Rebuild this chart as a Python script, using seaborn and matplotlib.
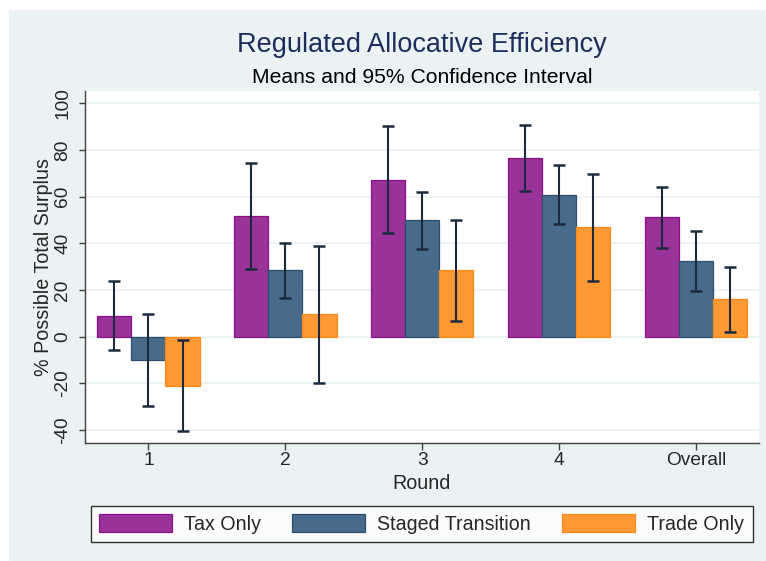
import matplotlib
matplotlib.use("Agg")
import matplotlib.pyplot as plt
from matplotlib.patches import Rectangle
from matplotlib.container import BarContainer
import numpy as np
import pandas as pd
import seaborn as sns

# ---- data: means and 95% confidence bounds by round and treatment ----
rounds = ["1", "2", "3", "4", "Overall"]
treatments = ["Tax Only", "Staged Transition", "Trade Only"]

tax_mean = [9.0, 51.7, 67.3, 76.5, 51.2]
tax_lo = [-5.7, 29.0, 44.6, 62.3, 37.9]
tax_hi = [23.9, 74.6, 90.2, 90.6, 64.3]

staged_mean = [-10.1, 28.6, 49.9, 60.9, 32.3]
staged_lo = [-29.8, 16.7, 37.6, 48.3, 19.4]
staged_hi = [9.9, 40.3, 62.1, 73.7, 45.2]

trade_mean = [-21.0, 9.6, 28.5, 46.9, 16.0]
trade_lo = [-40.4, -19.8, 6.9, 24.0, 2.0]
trade_hi = [-1.6, 39.0, 50.2, 69.7, 30.0]

y_ticks = [-40, -20, 0, 20, 40, 60, 80, 100]

means = [tax_mean, staged_mean, trade_mean]
lows = [tax_lo, staged_lo, trade_lo]
highs = [tax_hi, staged_hi, trade_hi]

df = pd.DataFrame({
    "Round": rounds * 3,
    "Treatment": [t for t in treatments for _ in rounds],
    "Value": tax_mean + staged_mean + trade_mean,
})

fills = ["#993399", "#486A8B", "#FF9933"]
edges = ["#8B1089", "#2D4D6D", "#FF8A1C"]
bg = "#EAF2F3"
ink = "#1C2A3E"

sns.set_style("white")
plt.rcParams["font.family"] = ["Liberation Sans", "DejaVu Sans"]

W, H = 766, 561
fig = plt.figure(figsize=(W / 100, H / 100), dpi=100, facecolor="white")
fig.patches.append(Rectangle((9 / W, 0), 1 - 9 / W, (H - 10) / H,
                             transform=fig.transFigure, facecolor=bg,
                             edgecolor="none", zorder=-10))

ax = fig.add_axes([85 / W, (H - 442.7) / H, (759 - 85) / W, (442.7 - 91) / H])
ax.set_facecolor("white")

sns.barplot(data=df, x="Round", y="Value", hue="Treatment", order=rounds,
            hue_order=treatments, palette=fills, saturation=1, width=0.75,
            errorbar=None, linewidth=0.9, ax=ax, zorder=2)

# outline each treatment's bars and add the confidence intervals
bar_groups = [c for c in ax.containers if isinstance(c, BarContainer)]
for k, cont in enumerate(bar_groups):
    xs = []
    for p in cont.patches:
        p.set_edgecolor(edges[k])
        xs.append(p.get_x() + p.get_width() / 2)
    xs = np.array(xs)
    m = np.array(means[k])
    lo = np.array(lows[k])
    hi = np.array(highs[k])
    ax.errorbar(xs, m, yerr=[m - lo, hi - m], fmt="none", ecolor=ink,
                elinewidth=1.5, capsize=4.3, capthick=1.8, zorder=4)

ax.set_xlim(-0.463, 4.461)
ax.set_ylim(-45.4, 105.3)
ax.set_yticks(y_ticks)
ax.set_yticklabels([str(v) for v in y_ticks], rotation=90, va="center")
ax.yaxis.grid(True, color=bg, linewidth=1.3, zorder=0)
ax.set_axisbelow(True)

for side in ["top", "right"]:
    ax.spines[side].set_visible(False)
for side in ["left", "bottom"]:
    ax.spines[side].set_color("#404040")
    ax.spines[side].set_linewidth(1.0)

ax.tick_params(axis="y", which="major", left=True, length=4, width=1,
               color="#404040", labelsize=13.8, pad=6.0)
ax.tick_params(axis="x", which="major", bottom=True, length=5, width=1,
               color="#404040", labelsize=13.8, pad=1.8)

ax.set_xlabel("Round", fontsize=14.2, labelpad=3.5)
ax.set_ylabel("% Possible Total Surplus", fontsize=14.2, labelpad=1)

leg_handles, leg_labels = ax.get_legend_handles_labels()
if ax.get_legend() is not None:
    ax.get_legend().remove()
for h, e in zip(leg_handles, edges):
    h.set_edgecolor(e)
leg = fig.legend(leg_handles, leg_labels, loc="center", ncol=3,
                 bbox_to_anchor=(421.7 / W, (H - 524.2) / H),
                 frameon=True, fancybox=False, fontsize=14.1,
                 handlelength=3.71, handleheight=1.0, handletextpad=0.63,
                 columnspacing=1.6, borderpad=0.42, borderaxespad=0)
leg.get_frame().set_edgecolor("black")
leg.get_frame().set_linewidth(1.0)
leg.get_frame().set_facecolor("white")

fig.text(422 / W, (H - 51.7) / H, "Regulated Allocative Efficiency",
         ha="center", va="baseline", fontsize=19.5, color="#1E2D5C")
fig.text(422 / W, (H - 82.7) / H, "Means and 95% Confidence Interval",
         ha="center", va="baseline", fontsize=15.2, color="black")

fig.savefig("out.png", dpi=100, facecolor=fig.get_facecolor())
